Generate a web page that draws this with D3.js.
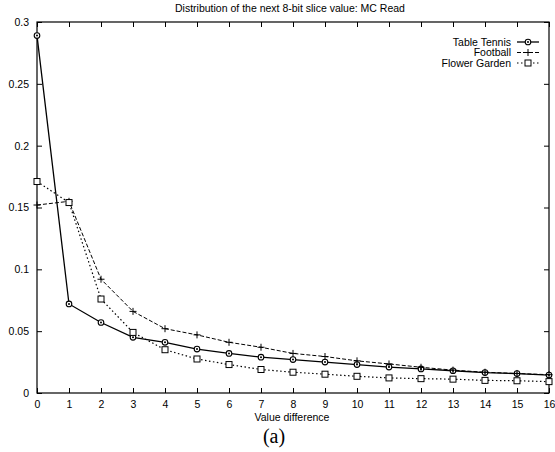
<!DOCTYPE html>
<html>
<head>
<meta charset="utf-8">
<script src="https://cdn.jsdelivr.net/npm/d3@7"></script>
<style>
  body { margin: 0; background: #fff; }
  text { font-family: "Liberation Sans", Arial, sans-serif; fill: #000; }
  .axis path, .axis line { stroke: #000; }
  .axis text { font-size: 10.5px; }
</style>
</head>
<body>
<script>
// x positions (value difference)
var diffs = d3.range(0, 17);

// series
var tableTennis = [0.289, 0.072, 0.057, 0.045, 0.041, 0.0355, 0.032, 0.029, 0.027, 0.025, 0.023, 0.021, 0.0195, 0.018, 0.0165, 0.0157, 0.0145];
var football    = [0.152, 0.155, 0.092, 0.066, 0.052, 0.047, 0.041, 0.037, 0.032, 0.0295, 0.026, 0.0235, 0.0208, 0.0185, 0.0168, 0.0158, 0.0148];
var flowerGarden = [0.171, 0.154, 0.076, 0.049, 0.035, 0.0275, 0.023, 0.019, 0.0168, 0.0152, 0.0135, 0.0122, 0.0116, 0.0112, 0.0102, 0.0099, 0.0092];

var yTicks = [0, 0.05, 0.1, 0.15, 0.2, 0.25, 0.3];

var width = 555, height = 452;
var margin = {top: 22, right: 6, bottom: 59, left: 37};

var svg = d3.select("body").append("svg")
    .attr("width", width)
    .attr("height", height);

var x = d3.scaleLinear().domain([0, 16]).range([margin.left, width - margin.right]);
var y = d3.scaleLinear().domain([0, 0.3]).range([height - margin.bottom, margin.top]);

// frame
svg.append("rect")
    .attr("x", x(0)).attr("y", y(0.3))
    .attr("width", x(16) - x(0)).attr("height", y(0) - y(0.3))
    .attr("fill", "none").attr("stroke", "#000").attr("stroke-width", 1.2);

// axes, ticks pointing inward
var fmt = function(d) { return d === 0 ? "0" : String(+d.toFixed(2)); };

svg.append("g").attr("class", "axis")
    .attr("transform", "translate(0," + y(0) + ")")
    .call(d3.axisBottom(x).tickValues(diffs).tickSizeInner(-5).tickSizeOuter(0).tickPadding(8))
    .call(function(g) { g.select(".domain").remove(); });

svg.append("g").attr("class", "axis")
    .attr("transform", "translate(0," + y(0.3) + ")")
    .call(d3.axisTop(x).tickValues(diffs).tickSizeInner(-5).tickSizeOuter(0).tickFormat(""))
    .call(function(g) { g.select(".domain").remove(); });

svg.append("g").attr("class", "axis")
    .attr("transform", "translate(" + x(0) + ",0)")
    .call(d3.axisLeft(y).tickValues(yTicks).tickFormat(fmt).tickSizeInner(-5).tickSizeOuter(0).tickPadding(8))
    .call(function(g) { g.select(".domain").remove(); });

svg.append("g").attr("class", "axis")
    .attr("transform", "translate(" + x(16) + ",0)")
    .call(d3.axisRight(y).tickValues(yTicks).tickSizeInner(-5).tickSizeOuter(0).tickFormat(""))
    .call(function(g) { g.select(".domain").remove(); });

// titles
svg.append("text")
    .attr("x", 290).attr("y", 12)
    .attr("text-anchor", "middle")
    .style("font-size", "10.5px")
    .text("Distribution of the next 8-bit slice value: MC Read");

svg.append("text")
    .attr("x", 292).attr("y", 421)
    .attr("text-anchor", "middle")
    .style("font-size", "10.5px")
    .text("Value difference");

svg.append("text")
    .attr("x", 274).attr("y", 443)
    .attr("text-anchor", "middle")
    .style("font-family", "'Liberation Serif', 'Times New Roman', serif")
    .style("font-size", "20px")
    .text("(a)");

// series
var series = [
  {name: "Table Tennis", values: tableTennis, dash: null, width: 1.3, marker: "diamond"},
  {name: "Football", values: football, dash: "4,2", width: 1, marker: "plus"},
  {name: "Flower Garden", values: flowerGarden, dash: "1.5,2.5", width: 1.2, marker: "square"}
];

var line = d3.line()
    .x(function(d, i) { return x(diffs[i]); })
    .y(function(d) { return y(d); });

function drawMarker(g, type, cx, cy) {
  if (type === "diamond") {
    g.append("circle").attr("cx", cx).attr("cy", cy).attr("r", 2.8)
      .attr("fill", "#fff").attr("stroke", "#000").attr("stroke-width", 1.1);
    g.append("circle").attr("cx", cx).attr("cy", cy).attr("r", 1)
      .attr("fill", "#000");
  } else if (type === "plus") {
    g.append("path").attr("d", "M" + (cx - 3.5) + "," + cy + "H" + (cx + 3.5) + "M" + cx + "," + (cy - 3.5) + "V" + (cy + 3.5))
      .attr("stroke", "#000").attr("stroke-width", 1);
  } else {
    g.append("rect").attr("x", cx - 3).attr("y", cy - 3).attr("width", 6).attr("height", 6)
      .attr("fill", "#fff").attr("stroke", "#000").attr("stroke-width", 1);
  }
}

series.forEach(function(s) {
  var g = svg.append("g");
  g.append("path")
    .datum(s.values)
    .attr("d", line)
    .attr("fill", "none")
    .attr("stroke", "#000")
    .attr("stroke-width", s.width)
    .attr("stroke-dasharray", s.dash);
  s.values.forEach(function(v, i) { drawMarker(g, s.marker, x(diffs[i]), y(v)); });
});

// legend
var legendY = [42, 52.5, 63];
series.forEach(function(s, i) {
  var ly = legendY[i];
  svg.append("text")
    .attr("x", 511).attr("y", ly + 3.5)
    .attr("text-anchor", "end")
    .style("font-size", "10.5px")
    .text(s.name);
  svg.append("line")
    .attr("x1", 517).attr("x2", 539).attr("y1", ly).attr("y2", ly)
    .attr("stroke", "#000").attr("stroke-width", s.width)
    .attr("stroke-dasharray", s.dash);
  drawMarker(svg.append("g"), s.marker, 528, ly);
});
</script>
</body>
</html>
